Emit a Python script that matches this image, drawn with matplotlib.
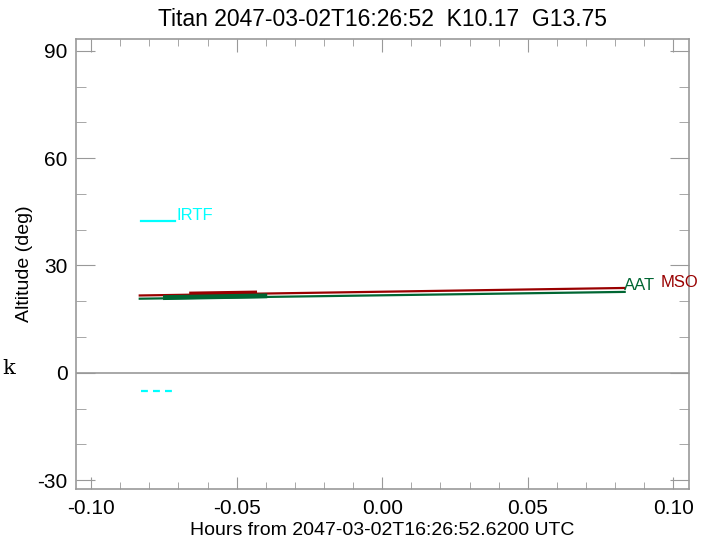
import matplotlib
matplotlib.use('Agg')
import matplotlib.pyplot as plt
from matplotlib.ticker import MultipleLocator

plt.rcParams['font.family'] = ['Liberation Sans', 'DejaVu Sans']
plt.rcParams['axes.unicode_minus'] = False

# 观测窗口（小时，相对参考时刻）
hours_span = [-0.0833, 0.0833]
mso_alt = [21.6, 23.7]
aat_alt = [20.7, 22.6]
mso_obs_hours = [-0.0663, -0.043]
mso_obs_alt = [22.0, 22.3]
aat_obs_hours = [-0.0753, -0.0395]
aat_obs_alt = [21.0, 21.5]
irtf_hours = [-0.0828, -0.0711]
irtf_alt = [42.5, 42.5]
irtf_low_alt = [-5.0, -5.0]
irtf_low_hours = [-0.0828, -0.0715]

site_names = ['AAT', 'MSO', 'IRTF']
label_hours = [0.0832, 0.0955, -0.0708]
label_alt = [24.3, 25.3, 43.9]

RED = '#990000'
GREEN = '#006633'
CYAN = '#00FFFF'
GRAY = '#999999'

fig = plt.figure(figsize=(7.08, 5.39), dpi=100)
ax = fig.add_axes([76 / 708, 1 - 489 / 539, (689 - 76) / 708, (489 - 39) / 539])

ax.axhline(0, color=GRAY, lw=1.2, zorder=1)

ax.plot(hours_span, mso_alt, color=RED, lw=1.6)
ax.plot(hours_span, aat_alt, color=GREEN, lw=1.6)
ax.plot(mso_obs_hours, mso_obs_alt, color=RED, lw=3.5, solid_capstyle='butt')
ax.plot(aat_obs_hours, aat_obs_alt, color=GREEN, lw=3.5, solid_capstyle='butt')
ax.plot(irtf_hours, irtf_alt, color=CYAN, lw=1.6)
ax.plot(irtf_low_hours, irtf_low_alt, color=CYAN, lw=1.6, ls=(0, (3.1, 2.3)))

for name, hx, hy, c in zip(site_names, label_hours, label_alt, [GREEN, RED, CYAN]):
    ax.text(hx, hy, name, color=c, fontsize=12, ha='left', va='center', clip_on=False)

ax.set_xlim(-0.1052, 0.1054)
ax.set_ylim(-32.5, 93.3)
ax.xaxis.set_major_locator(MultipleLocator(0.05))
ax.xaxis.set_minor_locator(MultipleLocator(0.01))
ax.yaxis.set_major_locator(MultipleLocator(30))
ax.yaxis.set_minor_locator(MultipleLocator(10))
ax.xaxis.set_major_formatter(plt.FuncFormatter(lambda v, p: f'{v:.2f}'))

ax.tick_params(which='both', direction='in', top=True, right=True, colors=GRAY,
               labelcolor='black', labelsize=15)
ax.tick_params(axis='x', which='major', length=9, pad=7)
ax.tick_params(axis='x', which='minor', length=5)
ax.tick_params(axis='y', which='major', length=14, pad=6)
ax.tick_params(axis='y', which='minor', length=7)
for s in ax.spines.values():
    s.set_color(GRAY)
    s.set_linewidth(1.2)

ax.set_title('Titan 2047-03-02T16:26:52  K10.17  G13.75', fontsize=16.5, pad=9)
ax.set_xlabel('Hours from 2047-03-02T16:26:52.6200 UTC', fontsize=14, labelpad=3)
ax.set_ylabel('Altitude (deg)', fontsize=14, labelpad=3)

fig.text(2 / 708, 1 - 369 / 539, 'k', family='DejaVu Serif', fontsize=15,
         ha='left', va='center')

fig.savefig('out.png', dpi=100)
